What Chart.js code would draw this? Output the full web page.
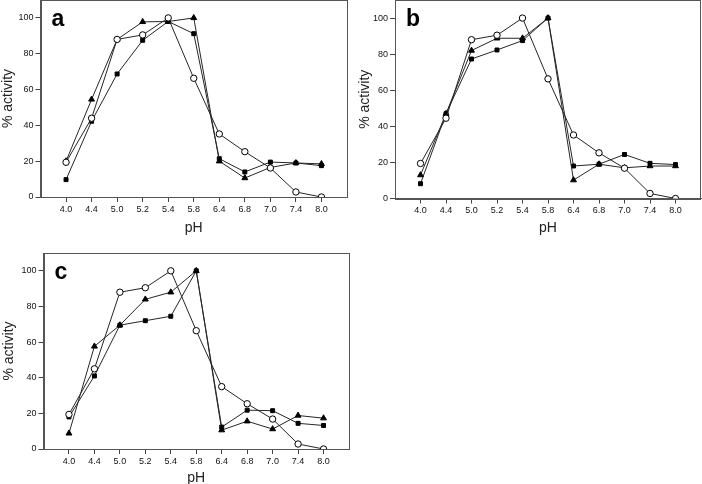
<!DOCTYPE html>
<html>
<head>
<meta charset="utf-8">
<script src="https://cdn.jsdelivr.net/npm/chart.js@4.4.0/dist/chart.umd.min.js"></script>
<style>
  body { margin: 0; background: #fff; width: 702px; height: 484px; overflow: hidden; position: relative; }
  .box { position: absolute; }
</style>
</head>
<body>
<div class="box" style="left:0;top:0;width:350px;height:240px"><canvas id="grafA"></canvas></div>
<div class="box" style="left:350px;top:0;width:352px;height:240px"><canvas id="grafB"></canvas></div>
<div class="box" style="left:0;top:250px;width:350px;height:240px"><canvas id="grafC"></canvas></div>
<script>
// pH categories and tick labels
const phLabels = ['4.0', '4.4', '5.0', '5.2', '5.4', '5.8', '6.4', '6.8', '7.0', '7.4', '8.0'];
const yTicks = [0, 20, 40, 60, 80, 100];

// panel a
const aCircle   = [19.4, 44, 88, 90.5, 100, 66.3, 35.2, 25.3, 16.2, 2.8, 0];
const aTriangle = [20, 54.5, 88, 97.8, 98, 100, 20, 10.6, 16.5, 19, 18.5];
const aSquare   = [9.7, 42.3, 68.7, 87.5, 98, 91.2, 21.4, 14, 19.5, 19, 17.5];

// panel b
const bCircle   = [19.4, 44.5, 88, 90.5, 100, 66.3, 35.2, 25.3, 16.8, 2.8, 0];
const bTriangle = [13, 47, 82, 88.8, 88.8, 100, 10.2, 19, 17, 18, 18];
const bSquare   = [8.2, 47, 77.3, 82.3, 87.5, 100, 18, 19, 24.4, 19.5, 18.8];

// panel c
const cCircle   = [19.4, 45, 88, 90.5, 100, 66.4, 35, 25.4, 16.8, 2.8, 0];
const cTriangle = [8.8, 57.6, 69.5, 84, 88, 100, 10.6, 15.6, 11.2, 18.8, 17.3];
const cSquare   = [18, 41, 69.5, 72, 74.5, 100, 12.3, 21.8, 21.5, 14.4, 13.2];

const FONT = 'Liberation Sans';
const LINE = '#262626';

function serie(values, style, fill, radius) {
    return {
        data: values.map((v, i) => ({ x: i, y: v })),
        borderColor: LINE,
        borderWidth: 1,
        pointStyle: style,
        pointRadius: radius,
        pointBorderWidth: 1,
        pointBackgroundColor: fill,
        pointBorderColor: '#000',
        tension: 0
    };
}

// moldura do gráfico + letra do painel
const moldura = {
    id: 'moldura',
    afterDraw(chart) {
        const a = chart.chartArea;
        const ctx = chart.ctx;
        ctx.save();
        ctx.strokeStyle = '#555';
        ctx.lineWidth = 1;
        ctx.strokeRect(Math.round(a.left) + 0.5, Math.round(a.top) + 0.5,
            Math.round(a.right - a.left) - 1, Math.round(a.bottom - a.top));
        ctx.fillStyle = '#000';
        ctx.font = 'bold 23px ' + FONT;
        ctx.textBaseline = 'alphabetic';
        ctx.fillText(chart.options.plugins.moldura.letra, a.left + 11, a.top + 26);
        ctx.restore();
    }
};

function grafico(id, letra, circle, triangle, square, yWidth, xHeight, titleX, top, right) {
    return new Chart(document.getElementById(id), {
        type: 'line',
        data: {
            datasets: [
                serie(circle, 'circle', '#fff', 3.2),
                serie(triangle, 'triangle', '#000', 3.4),
                serie(square, 'rect', '#000', 2.8)
            ]
        },
        options: {
            responsive: true,
            maintainAspectRatio: false,
            animation: false,
            layout: { autoPadding: false, padding: { left: 0, right: right, top: top, bottom: 0 } },
            scales: {
                x: {
                    type: 'linear',
                    min: -1,
                    max: 11,
                    afterBuildTicks: (s) => { s.ticks = phLabels.map((l, i) => ({ value: i })); },
                    afterFit: (s) => { s.height = xHeight; s.paddingLeft = 0; s.paddingRight = 0; },
                    ticks: {
                        autoSkip: false,
                        maxRotation: 0,
                        padding: 2,
                        color: '#111',
                        font: { size: 9, family: FONT },
                        callback: (v) => phLabels[v]
                    },
                    grid: { display: true, drawOnChartArea: false, drawTicks: true, tickLength: 5, color: '#444' },
                    border: { display: true, color: '#555' },
                    title: {
                        display: true,
                        text: 'pH',
                        color: '#222',
                        font: { size: 14, family: FONT },
                        padding: { top: 0, bottom: 3 }
                    }
                },
                y: {
                    min: 0,
                    max: 110,
                    afterBuildTicks: (s) => { s.ticks = yTicks.map(v => ({ value: v })); },
                    afterFit: (s) => { s.width = yWidth; s.paddingTop = 0; s.paddingBottom = 0; },
                    ticks: {
                        padding: 2,
                        color: '#111',
                        font: { size: 9, family: FONT }
                    },
                    grid: { display: true, drawOnChartArea: false, drawTicks: true, tickLength: 5, color: '#444' },
                    border: { display: true, color: '#555' },
                    title: {
                        display: true,
                        text: '% activity',
                        color: '#222',
                        font: { size: 14, family: FONT },
                        padding: { top: titleX, bottom: 0 }
                    }
                }
            },
            plugins: {
                legend: { display: false },
                tooltip: { enabled: false },
                moldura: { letra: letra }
            }
        },
        plugins: [moldura]
    });
}

grafico('grafA', 'a', aCircle, aTriangle, aSquare, 40.5, 43, 0, 0, 3);
grafico('grafB', 'b', bCircle, bTriangle, bSquare, 45, 41.5, 7, 0, 1);
grafico('grafC', 'c', cCircle, cTriangle, cSquare, 43.5, 41, 1, 3, 1);
</script>
</body>
</html>
